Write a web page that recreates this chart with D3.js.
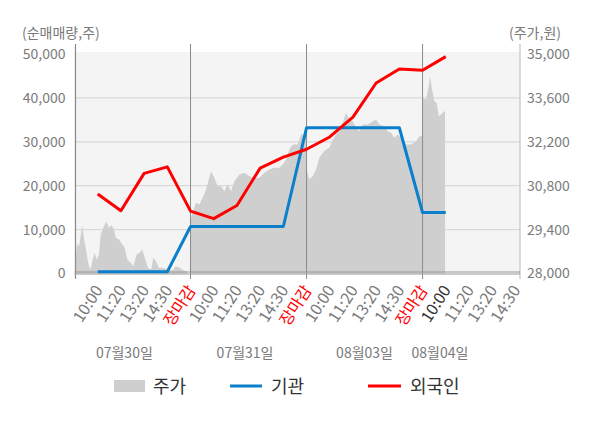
<!DOCTYPE html>
<html><head><meta charset="utf-8">
<script src="https://cdn.jsdelivr.net/npm/d3@7"></script>
<style>
html,body{margin:0;padding:0;background:#fff;}
text{font-family:"Noto Sans CJK KR","Noto Sans",sans-serif;}
</style></head>
<body><svg id="c" width="600" height="428"></svg>
<script>
// ---- data ----
const dayNames = ["07월30일","07월31일","08월03일","08월04일"];
const dayLabelSlots = [43,147,250,315];
const timeLabels = ["10:00","11:20","13:20","14:30","장마감"];
const volTicks = [0,10000,20000,30000,40000,50000];
const priceTicks = [28000,29400,30800,32200,33600,35000];
const flowSlots = [20,40,60,80,100,120,140,160,180,200,220,240,260,280,300,320];
const foreign = [18100,14300,22800,24300,14200,12500,15500,24000,26500,28300,31100,35600,43400,46600,46300,49400];
const institution = [400,400,400,400,10700,10700,10700,10700,10700,33200,33200,33200,33200,33200,13900,13900];
const priceDay1 = [[1,28606],[2.4,28947],[3.9,28871],[5.3,29190],[6.7,29540],[8.2,29084],[9.7,28820],[11,28501],[12.5,28233],[14,28128],[15.3,28392],[17.4,28660],[19.1,28446],[21.1,28606],[22.6,29244],[24.8,29457],[27.4,29668],[29.7,29457],[31.7,29540],[34.1,29403],[35.5,29138],[38.4,29084],[41.2,28925],[43.3,28820],[45.5,28446],[48.4,28341],[50.7,28233],[53.6,28606],[56.2,28660],[58.4,28765],[60.5,28501],[63.4,28182],[66.2,28128],[67.9,28501],[70,28392],[72.8,28182],[75.7,28182],[80,28128],[84.3,28096],[87.2,28233],[90.1,28201],[92.9,28128],[95.9,28073],[97,28050]];
const priceDay2 = [[100,29722],[101.9,29936],[104.7,30255],[107.6,30200],[110.5,30414],[113.4,30679],[115.7,30998],[117.7,31262],[120.5,31052],[123.4,30784],[126.3,30784],[129.1,30625],[132.1,30838],[134.9,30625],[137.8,30943],[142.1,31157],[146.4,31211],[150.7,31103],[155,31052],[159.3,31052],[163.6,31211],[167.9,31317],[172.2,31371],[176.6,31371],[179.5,31476],[182.3,31635],[185.2,31954],[188.1,32114],[192.4,32114],[195.3,32433],[198.1,32433],[199.8,32433]];
const priceDay3 = [[200,31317],[202.4,30998],[205.3,31103],[208.2,31317],[211,31690],[214,31849],[216.8,31954],[219.7,32009],[222.6,32273],[225.4,32433],[228.3,32538],[231.2,32806],[234.1,33125],[236.9,32911],[239.8,32857],[242.7,32646],[245.5,32538],[248.4,32752],[252.8,32752],[257.1,32857],[259.9,32911],[262.8,32752],[267.1,32697],[270,32538],[272.8,32487],[275.7,32328],[278.6,32433],[281.5,32328],[285.8,32114],[290.1,32114],[294.4,32219],[297.2,32378],[299.8,32378]];
const priceDay4 = [[300,33603],[303,33549],[305.3,33973],[306.5,34292],[308.2,33868],[310.2,33495],[312.2,33444],[314,33016],[316,33071],[318.8,33176],[319.4,33176]];

// ---- layout ----
const svg = d3.select("#c");
const L = 74.5, R = 520, T = 54, B = 273.5;
const x = d3.scaleLinear().domain([0,384]).range([L,R]);
const yV = d3.scaleLinear().domain([0,50000]).range([B,T]);
const yP = d3.scaleLinear().domain([28000,35000]).range([B,T]);
const grayTxt = "#7a7a7a";

// plot background
svg.append("rect").attr("x",L).attr("y",52).attr("width",R-L).attr("height",B-52).attr("fill","#f4f4f4");

// gridlines
svg.append("g").selectAll("line").data(volTicks.slice(1,5)).join("line")
  .attr("x1",L).attr("x2",R).attr("y1",d=>yV(d)).attr("y2",d=>yV(d))
  .attr("stroke","#d9d9d9").attr("stroke-width",1.2);

// price areas
const area = d3.area().x(d=>x(d[0])).y0(yP(28000)).y1(d=>yP(d[1]));
[priceDay1,priceDay2,priceDay3,priceDay4].forEach(p=>{
  svg.append("path").datum(p).attr("d",area).attr("fill","#cfcfcf");
});

// day separators & axes
[100,200,300].forEach(s=>{
  svg.append("line").attr("x1",x(s)).attr("x2",x(s)).attr("y1",44).attr("y2",279)
    .attr("stroke","#8a8a8a").attr("stroke-width",1);
});
svg.append("line").attr("x1",L+1).attr("x2",L+1).attr("y1",44).attr("y2",279).attr("stroke","#8a8a8a").attr("stroke-width",1.2);
svg.append("line").attr("x1",R).attr("x2",R).attr("y1",44).attr("y2",279).attr("stroke","#cfcfcf").attr("stroke-width",1.5);
svg.append("line").attr("x1",L).attr("x2",R).attr("y1",B-1.5).attr("y2",B-1.5).attr("stroke","#999").attr("stroke-width",1);
svg.append("line").attr("x1",L).attr("x2",R).attr("y1",B+0.5).attr("y2",B+0.5).attr("stroke","#999").attr("stroke-width",1);

// lines
const lineF = d3.line().x((d,i)=>x(flowSlots[i])).y(d=>yV(d));
svg.append("path").datum(institution).attr("d",lineF).attr("fill","none")
  .attr("stroke","#0a7fcb").attr("stroke-width",3).attr("stroke-linejoin","round");
svg.append("path").datum(foreign).attr("d",lineF).attr("fill","none")
  .attr("stroke","#ff0000").attr("stroke-width",3).attr("stroke-linejoin","round");

// left axis labels
const axL = svg.append("g").attr("transform",`translate(${L},0)`)
  .call(d3.axisLeft(yV).tickValues(volTicks).tickFormat(d3.format(",")).tickSize(0).tickPadding(9));
axL.select(".domain").remove();
axL.selectAll("text").attr("fill",grayTxt).attr("font-size",14).attr("font-family","Noto Sans CJK KR");
// right axis labels
const axR = svg.append("g").attr("transform",`translate(${R},0)`)
  .call(d3.axisRight(yP).tickValues(priceTicks).tickFormat(d3.format(",")).tickSize(0).tickPadding(7));
axR.select(".domain").remove();
axR.selectAll("text").attr("fill",grayTxt).attr("font-size",14).attr("font-family","Noto Sans CJK KR");

// axis titles
svg.append("text").attr("x",22).attr("y",38).attr("fill",grayTxt).attr("font-size",14).text("(순매매량,주)");
svg.append("text").attr("x",509).attr("y",38).attr("fill",grayTxt).attr("font-size",14).text("(주가,원)");

// x tick labels
const xt = [];
dayNames.forEach((dn,d)=>{
  timeLabels.forEach((t,k)=>{
    if(d===3 && k===4) return;
    xt.push({slot:d*100+20*(k+1), t, close:k===4, cur:(d===3&&k===0)});
  });
});
svg.append("g").selectAll("text").data(xt).join("text")
  .attr("transform",d=>`translate(${x(d.slot)+1},${287}) rotate(-57)`)
  .attr("text-anchor","end").attr("dy","0.35em").attr("font-size",16)
  .attr("fill",d=>d.close?"#ff0000":(d.cur?"#333":grayTxt))
  .text(d=>d.t);

// date labels
svg.append("g").selectAll("text").data(dayNames).join("text")
  .attr("x",(d,i)=>x(dayLabelSlots[i])).attr("y",358).attr("text-anchor","middle")
  .attr("font-size",14).attr("fill",grayTxt).text(d=>d);

// legend
const lg = svg.append("g");
lg.append("rect").attr("x",114).attr("y",380).attr("width",31).attr("height",12).attr("fill","#cfcfcf");
lg.append("text").attr("x",153).attr("y",393).attr("font-size",18).attr("fill","#333").text("주가");
lg.append("line").attr("x1",230).attr("x2",262).attr("y1",386).attr("y2",386).attr("stroke","#0a7fcb").attr("stroke-width",3);
lg.append("text").attr("x",271).attr("y",393).attr("font-size",18).attr("fill","#333").text("기관");
lg.append("line").attr("x1",368).attr("x2",401).attr("y1",386).attr("y2",386).attr("stroke","#ff0000").attr("stroke-width",3);
lg.append("text").attr("x",410).attr("y",393).attr("font-size",18).attr("fill","#333").text("외국인");
</script></body></html>
